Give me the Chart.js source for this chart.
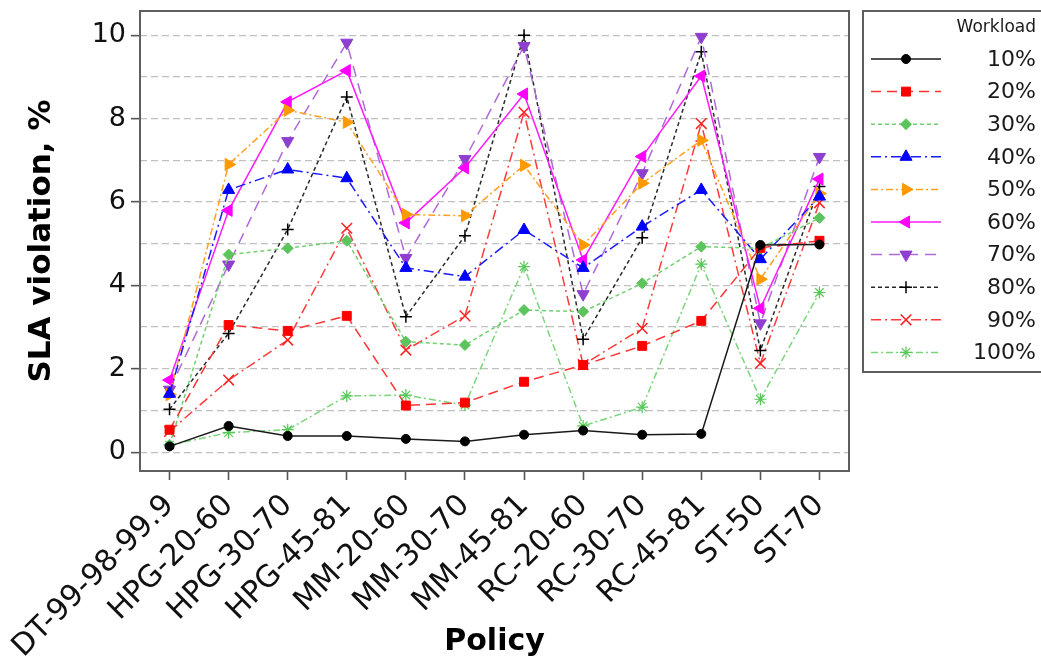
<!DOCTYPE html>
<html>
<head>
<meta charset="utf-8">
<script src="https://cdn.jsdelivr.net/npm/chart.js"></script>
<style>
  html, body { margin: 0; padding: 0; background: #ffffff; }
  #wrap { width: 1041px; height: 662px; }
</style>
</head>
<body>
<div id="wrap"><canvas id="c" width="1041" height="662"></canvas></div>
<script>
// Policies on the x axis
const policies = ['DT-99-98-99.9', 'HPG-20-60', 'HPG-30-70', 'HPG-45-81', 'MM-20-60', 'MM-30-70',
                  'MM-45-81', 'RC-20-60', 'RC-30-70', 'RC-45-81', 'ST-50', 'ST-70'];

// SLA violation (%) for each workload level
const workload10  = [0.14, 0.63, 0.39, 0.39, 0.32, 0.26, 0.42, 0.52, 0.42, 0.44, 4.97, 4.98];
const workload20  = [0.54, 3.05, 2.91, 3.27, 1.12, 1.19, 1.69, 2.09, 2.55, 3.15, 4.90, 5.07];
const workload30  = [0.18, 4.74, 4.89, 5.07, 2.65, 2.57, 3.41, 3.37, 4.05, 4.93, 4.89, 5.62];
const workload40  = [1.40, 6.29, 6.78, 6.57, 4.42, 4.21, 5.33, 4.42, 5.41, 6.29, 4.63, 6.13];
const workload50  = [1.38, 6.90, 8.20, 7.91, 5.70, 5.67, 6.88, 4.97, 6.45, 7.48, 4.15, 6.20];
const workload60  = [1.73, 5.80, 8.40, 9.15, 5.50, 6.82, 8.59, 4.61, 7.09, 9.02, 3.45, 6.55];
const workload70  = [1.50, 4.50, 7.46, 9.82, 4.66, 7.03, 9.74, 3.79, 6.69, 9.96, 3.09, 7.08];
const workload80  = [1.03, 2.85, 5.34, 8.52, 3.25, 5.19, 10.0, 2.71, 5.14, 9.60, 2.44, 6.37];
const workload90  = [0.50, 1.73, 2.69, 5.37, 2.45, 3.27, 8.15, 2.10, 2.97, 7.88, 2.13, 5.98];
const workload100 = [0.17, 0.47, 0.54, 1.35, 1.37, 1.13, 4.45, 0.63, 1.08, 4.51, 1.27, 3.83];

const seriesLabels = ['10%', '20%', '30%', '40%', '50%', '60%', '70%', '80%', '90%', '100%'];
const yTickValues = [0, 1, 2, 3, 4, 5, 6, 7, 8, 9, 10];

const FONT = 'DejaVu Sans';

function series(label, data, line, marker, dash, style, radius, rotation, bw) {
  return {
    label, data,
    borderColor: line,
    borderWidth: 1.5,
    borderDash: dash,
    backgroundColor: marker,
    pointBackgroundColor: marker,
    pointBorderColor: marker,
    pointBorderWidth: bw,
    pointStyle: style,
    pointRadius: radius,
    pointRotation: rotation,
    tension: 0,
    fill: false
  };
}

const datasets = [
  series(seriesLabels[0], workload10,  '#1a1a1a', '#000000', [],             'circle',   4.5, 0,   1),
  series(seriesLabels[1], workload20,  '#ff3333', '#ff0000', [10, 6],        'rect',     6.3, 0,   1),
  series(seriesLabels[2], workload30,  '#6fd06f', '#5cc45c', [4, 3],         'rectRot',  5.5, 0,   1),
  series(seriesLabels[3], workload40,  '#1a1aff', '#0000ff', [10, 4, 2, 4],  'triangle', 7,   0,   1),
  series(seriesLabels[4], workload50,  '#ffa020', '#ff9900', [7, 3, 2, 3],   'triangle', 7,   90,  1),
  series(seriesLabels[5], workload60,  '#ff1aff', '#ff00ff', [],             'triangle', 7,   270, 1),
  series(seriesLabels[6], workload70,  '#b06ad8', '#8e3fcf', [11, 7],        'triangle', 7,   180, 1),
  series(seriesLabels[7], workload80,  '#2a2a2a', '#000000', [4, 3],         'cross',    6,   0,   1.5),
  series(seriesLabels[8], workload90,  '#ff3a3a', '#ff2020', [10, 4, 2, 4],  'crossRot', 7.5, 0,   1.5),
  series(seriesLabels[9], workload100, '#7ad67a', '#55c855', [7, 3, 2, 3],   'star',     6,   0,   1.2)
];

// Frame around the plotting area
const framePlugin = {
  id: 'frame',
  beforeDatasetsDraw(chart) {
    const { ctx, chartArea: a } = chart;
    ctx.save();
    ctx.strokeStyle = '#5f5f5f';
    ctx.lineWidth = 2;
    ctx.strokeRect(a.left, a.top, a.right - a.left, a.bottom - a.top);
    ctx.restore();
  }
};

// Boxed legend with line samples and right-aligned labels
const boxLegendPlugin = {
  id: 'boxLegend',
  afterDraw(chart) {
    const ctx = chart.ctx;
    const left = 863, top = 11, bottom = 372, textRight = 1036;
    ctx.save();
    ctx.strokeStyle = '#5f5f5f';
    ctx.lineWidth = 2;
    ctx.strokeRect(left, top, 1060 - left, bottom - top);

    ctx.fillStyle = '#1a1a1a';
    ctx.textAlign = 'right';
    ctx.textBaseline = 'middle';
    ctx.font = '17px "' + FONT + '"';
    ctx.fillText('Workload', textRight, 28);

    ctx.font = '22px "' + FONT + '"';
    chart.data.datasets.forEach((ds, i) => {
      const y = 59 + i * 32.6;
      ctx.save();
      ctx.strokeStyle = ds.borderColor;
      ctx.lineWidth = ds.borderWidth;
      ctx.setLineDash(ds.borderDash || []);
      ctx.beginPath();
      ctx.moveTo(871, y);
      ctx.lineTo(941, y);
      ctx.stroke();
      ctx.setLineDash([]);
      ctx.fillStyle = ds.pointBackgroundColor;
      ctx.strokeStyle = ds.pointBorderColor;
      ctx.lineWidth = ds.pointBorderWidth;
      Chart.helpers.drawPoint(ctx, {
        pointStyle: ds.pointStyle,
        rotation: ds.pointRotation,
        radius: ds.pointRadius,
        borderWidth: ds.pointBorderWidth
      }, 906, y);
      ctx.restore();
      ctx.fillStyle = '#1a1a1a';
      ctx.fillText(ds.label, textRight, y + 1);
    });
    ctx.restore();
  }
};

new Chart(document.getElementById('c'), {
  type: 'line',
  data: { labels: policies, datasets },
  plugins: [framePlugin, boxLegendPlugin],
  options: {
    responsive: false,
    animation: false,
    layout: { padding: { left: 0, right: 192, top: 11, bottom: 0 } },
    plugins: {
      legend: { display: false },
      tooltip: { enabled: false }
    },
    scales: {
      x: {
        type: 'category',
        offset: true,
        border: { display: false },
        grid: {
          drawOnChartArea: false,
          drawTicks: true,
          tickLength: 9,
          tickColor: '#555555',
          tickWidth: 1.6
        },
        ticks: {
          autoSkip: false,
          minRotation: 45,
          maxRotation: 45,
          padding: 8,
          color: '#111111',
          font: { family: FONT, size: 30 }
        },
        title: {
          display: true,
          text: 'Policy',
          color: '#000000',
          font: { family: FONT, size: 30, weight: 'bold' },
          padding: { top: 0, bottom: 2 }
        },
        afterFit(scale) { scale.height = 191; }
      },
      y: {
        type: 'linear',
        min: -0.45,
        max: 10.58,
        border: { display: false, dash: [7, 4] },
        afterBuildTicks(scale) {
          scale.ticks = yTickValues.map(v => ({ value: v }));
        },
        grid: {
          color: '#c0c0c0',
          lineWidth: 1.3,
          borderDash: [7, 4],
          drawTicks: true,
          tickLength: 9,
          tickWidth: 1.6,
          tickColor: (c) => (c.tick && c.tick.value % 2 === 0) ? '#555555' : 'rgba(0,0,0,0)'
        },
        ticks: {
          padding: 5,
          color: '#111111',
          font: { family: FONT, size: 27, lineHeight: 0.4 },
          callback: (v) => (v % 2 === 0 ? String(v) : '')
        },
        title: {
          display: true,
          text: 'SLA violation, %',
          color: '#000000',
          font: { family: FONT, size: 31, weight: 'bold' },
          padding: { top: 23, bottom: 0 }
        },
        afterFit(scale) { scale.width = 140; }
      }
    }
  }
});
</script>
</body>
</html>
